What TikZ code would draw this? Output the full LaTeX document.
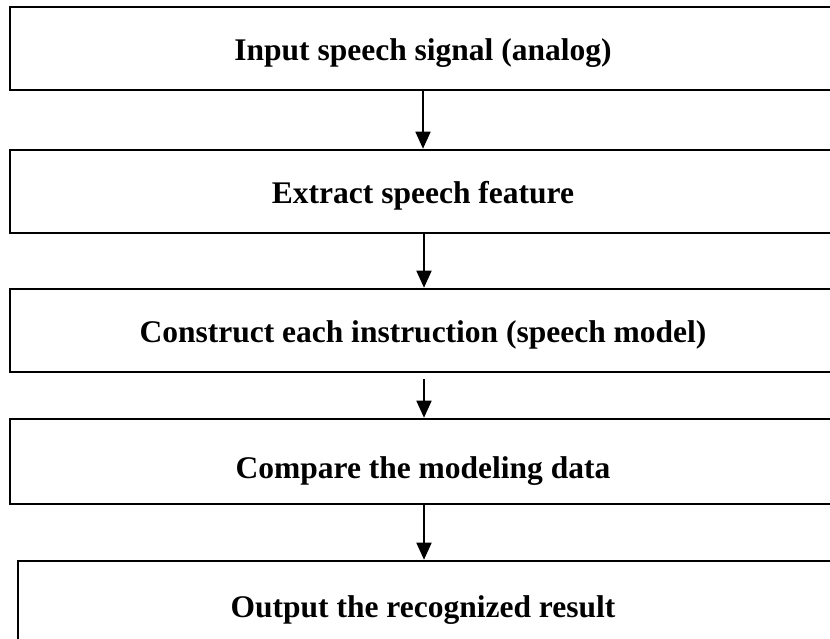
\documentclass[tikz,border=0pt]{standalone}
\usepackage{fontspec}
\setmainfont{Liberation Serif}
\usetikzlibrary{arrows.meta}
\begin{document}
\begin{tikzpicture}[x=1pt,y=-1pt,
  stage/.style={draw=black, line width=2.6pt, rectangle, inner sep=0pt,
    text height=31pt, text depth=7pt,
    font=\fontsize{31.5}{36}\selectfont\bfseries},
  flow/.style={line width=1.8pt, -{Triangle[width=15pt,length=17pt]}}]
\useasboundingbox (0,0) rectangle (830,639);
\clip (0,0) rectangle (830,639);
\fill[white] (0,0) rectangle (830,639);
% process stages, top to bottom
\node[stage, minimum width=826pt, minimum height=83pt] (input) at (423,48.5) {Input speech signal (analog)};
\node[stage, minimum width=826pt, minimum height=83pt] (extract) at (423,191.5) {Extract speech feature};
\node[stage, minimum width=826pt, minimum height=83pt] (construct) at (423,330.5) {Construct each instruction (speech model)};
\node[stage, minimum width=826pt, minimum height=85pt, text height=41pt] (compare) at (423,461.5) {Compare the modeling data};
\node[stage, minimum width=814pt, minimum height=83pt, text height=37pt] (output) at (425,602.5) {\hspace*{-4pt}Output the recognized result};
% connectors between stages
\draw[flow] (input.south -| 423,0) -- (extract.north -| 423,0);
\draw[flow] (extract.south -| 424,0) -- (construct.north -| 424,0);
\draw[flow] ([yshift=-6pt]construct.south -| 424,0) -- (compare.north -| 424,0);
\draw[flow] (compare.south -| 424,0) -- (output.north -| 424,0);
\end{tikzpicture}
\end{document}
